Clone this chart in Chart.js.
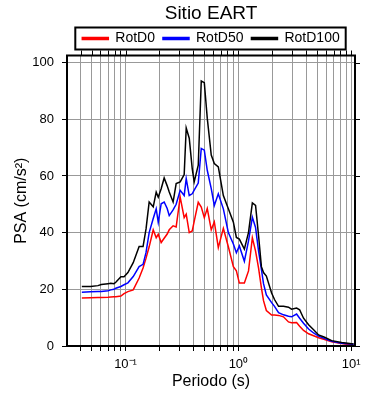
<!DOCTYPE html>
<html>
<head>
<meta charset="utf-8">
<script src="https://cdn.jsdelivr.net/npm/chart.js@4"></script>
<style>
  html, body { margin: 0; padding: 0; background: #fff; }
</style>
</head>
<body>
<canvas id="psaChart" width="390" height="400"></canvas>
<script>
// periods (s) and PSA values (cm/s2)
var periods = [0.041, 0.049, 0.057, 0.061, 0.070, 0.074, 0.079, 0.082, 0.091, 0.097,
               0.105, 0.117, 0.132, 0.143, 0.152, 0.162, 0.176, 0.187, 0.195, 0.207,
               0.220, 0.234, 0.244, 0.264, 0.281, 0.305, 0.331, 0.345, 0.367, 0.390,
               0.406, 0.441, 0.469, 0.499, 0.530, 0.575, 0.612, 0.664, 0.736, 0.815,
               0.903, 0.960, 1.02, 1.13, 1.23, 1.33, 1.42, 1.51, 1.60, 1.67,
               1.77, 1.97, 2.09, 2.27, 2.51, 2.78, 2.96, 3.28, 3.49, 3.78,
               4.19, 4.64, 5.14, 5.81, 6.71, 8.23, 10.5];

var rotD0 = [16.9, 17.0, 17.1, 17.1, 17.2, 17.3, 17.4, 17.4, 17.6, 18.5,
             19.2, 19.8, 24.0, 27.5, 31.0, 35.0, 41.0, 38.2, 39.4, 36.5,
             38.0, 39.5, 41.0, 42.4, 42.0, 52.5, 45.3, 46.5, 40.0, 40.6,
             44.0, 50.7, 49.0, 45.3, 48.5, 41.0, 43.8, 34.7, 41.5, 35.0,
             28.0, 26.5, 22.2, 22.2, 26.5, 38.2, 33.5, 27.5, 20.5, 16.0,
             12.5, 10.9, 10.9, 10.8, 10.3, 8.5, 8.2, 8.3, 7.0, 5.5,
             4.3, 3.6, 2.9, 2.3, 1.5, 0.85, 0.3];

var rotD50 = [19.0, 19.1, 19.2, 19.2, 19.5, 19.8, 20.0, 20.4, 21.0, 21.6,
              22.3, 24.5, 28.0, 28.8, 33.0, 40.0, 45.0, 48.4, 43.6, 50.2,
              50.8, 48.5, 46.0, 48.0, 50.0, 54.9, 53.1, 59.1, 53.1, 53.7,
              55.0, 57.5, 69.7, 69.1, 62.0, 55.5, 49.6, 53.7, 48.4, 40.0,
              36.0, 32.9, 35.3, 29.9, 37.1, 45.4, 41.8, 33.5, 27.0, 22.0,
              18.0, 15.3, 14.0, 11.8, 11.0, 10.5, 10.3, 11.3, 9.8, 8.0,
              6.0, 4.6, 3.5, 2.6, 1.7, 1.0, 0.6];

var rotD100 = [21.0, 21.0, 21.3, 21.7, 22.0, 22.1, 22.0, 22.5, 24.4, 24.4,
               25.9, 29.4, 35.1, 35.1, 41.3, 50.8, 49.1, 54.3, 52.5, 55.5,
               59.3, 56.5, 54.3, 50.8, 57.3, 57.9, 60.5, 76.9, 73.3, 62.6,
               57.9, 63.8, 93.5, 92.9, 80.4, 67.4, 64.4, 63.2, 53.1, 48.4,
               43.7, 38.3, 37.7, 34.2, 40.1, 50.5, 49.6, 38.9, 28.0, 25.9,
               24.7, 18.7, 16.4, 14.0, 14.0, 13.7, 13.0, 13.4, 12.8, 9.8,
               7.5, 5.7, 3.9, 3.1, 1.9, 1.2, 0.7];

var xTicks = [0.04, 0.05, 0.06, 0.07, 0.08, 0.09,
              0.1, 0.2, 0.3, 0.4, 0.5, 0.6, 0.7, 0.8, 0.9,
              1, 2, 3, 4, 5, 6, 7, 8, 9, 10];
var xTickLabels = { '-1': '10\u207B\u00B9', '0': '10\u2070', '1': '10\u00B9' };

function points(values) {
    return periods.map(function (p, i) { return { x: p, y: values[i] }; });
}

// frame, outward ticks on top/right, box around the legend
var framePlugin = {
    id: 'frame',
    afterDraw: function (chart) {
        var ctx = chart.ctx, a = chart.chartArea;
        var xs = chart.scales.x, ys = chart.scales.y;
        ctx.save();
        ctx.strokeStyle = '#000';
        ctx.lineWidth = 1;
        ctx.beginPath();
        xs.ticks.forEach(function (t) {
            var px = Math.round(xs.getPixelForValue(t.value)) + 0.5;
            ctx.moveTo(px, a.top);
            ctx.lineTo(px, a.top - 5);
        });
        ys.ticks.forEach(function (t) {
            var py = Math.round(ys.getPixelForValue(t.value)) + 0.5;
            ctx.moveTo(a.right, py);
            ctx.lineTo(a.right + 5, py);
        });
        ctx.stroke();
        ctx.lineWidth = 2;
        ctx.strokeRect(a.left, a.top, a.right - a.left, a.bottom - a.top);

        var hb = chart.legend.legendHitBoxes;
        if (hb && hb.length) {
            var first = hb[0], last = hb[hb.length - 1];
            var cy = first.top + first.height / 2;
            var left = first.left - 7, right = last.left + last.width + 6;
            ctx.strokeRect(left, cy - 11, right - left, 22);
        }
        ctx.restore();
    }
};

Chart.defaults.font.family = '"Liberation Sans", Arial, sans-serif';
Chart.defaults.color = '#000';

var ctx = document.getElementById('psaChart').getContext('2d');
var psaChart = new Chart(ctx, {
    type: 'line',
    data: {
        datasets: [{
            label: 'RotD0',
            data: points(rotD0),
            borderColor: '#ff0000',
            backgroundColor: '#ff0000',
            order: 3
        }, {
            label: 'RotD50',
            data: points(rotD50),
            borderColor: '#0000ff',
            backgroundColor: '#0000ff',
            order: 2
        }, {
            label: 'RotD100',
            data: points(rotD100),
            borderColor: '#000000',
            backgroundColor: '#000000',
            order: 1
        }]
    },
    options: {
        responsive: false,
        animation: false,
        elements: {
            line: { borderWidth: 1.5, tension: 0 },
            point: { radius: 0 }
        },
        layout: { padding: { left: 0, right: 35, top: 0, bottom: 0 } },
        plugins: {
            title: {
                display: true,
                text: 'Sitio EART',
                fullSize: false,
                font: { size: 19, weight: 'normal', lineHeight: 1 },
                padding: { top: 4.5, bottom: 0 }
            },
            legend: {
                fullSize: false,
                maxHeight: 34.5,
                labels: {
                    font: { size: 14 },
                    boxWidth: 26,
                    boxHeight: 2,
                    padding: 8,
                    sort: function (a, b) { return a.datasetIndex - b.datasetIndex; }
                }
            },
            tooltip: { enabled: false }
        },
        scales: {
            x: {
                type: 'logarithmic',
                min: 0.0303,
                max: 10.8,
                afterBuildTicks: function (scale) {
                    scale.ticks = xTicks.map(function (v) { return { value: v }; });
                },
                afterFit: function (scale) { scale.height = 54; },
                ticks: {
                    autoSkip: false,
                    maxRotation: 0,
                    padding: 6,
                    font: { size: 13 },
                    callback: function (value) {
                        var e = Math.log10(value);
                        if (Math.abs(e - Math.round(e)) < 1e-9) {
                            return xTickLabels[String(Math.round(e))];
                        }
                        return '';
                    }
                },
                grid: { color: '#999', tickColor: '#000', tickLength: 5, lineWidth: 1 },
                border: { color: '#000', width: 2 },
                title: {
                    display: true,
                    text: 'Periodo (s)',
                    font: { size: 16 },
                    padding: { top: 0, bottom: 9 }
                }
            },
            y: {
                min: 0,
                max: 102.5,
                afterFit: function (scale) { scale.width = 67; },
                ticks: { stepSize: 20, includeBounds: false, padding: 8, font: { size: 13 } },
                grid: { color: '#999', tickColor: '#000', tickLength: 5, lineWidth: 1 },
                border: { color: '#000', width: 2 },
                title: {
                    display: true,
                    text: 'PSA (cm/s\u00B2)',
                    font: { size: 16 },
                    padding: { top: 12, bottom: 0 }
                }
            }
        }
    },
    plugins: [framePlugin]
});
</script>
</body>
</html>
